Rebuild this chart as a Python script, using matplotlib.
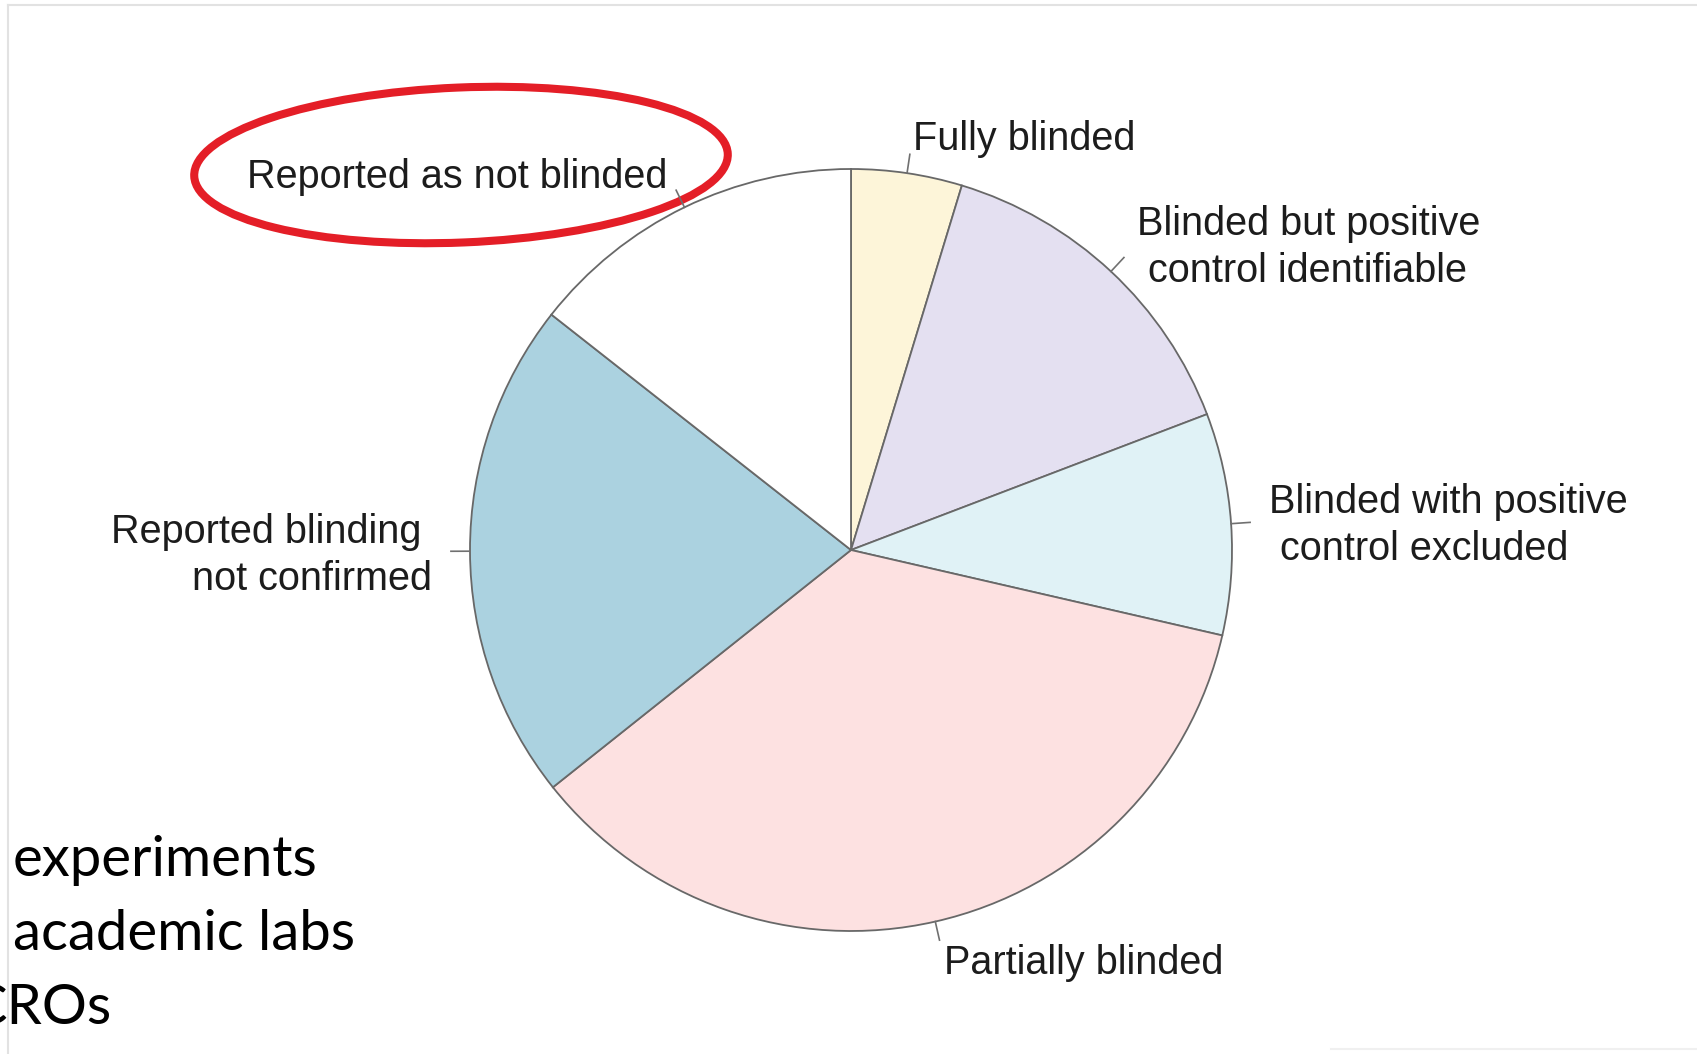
import numpy as np
import matplotlib.pyplot as plt
from matplotlib.patches import Ellipse

# blinding status of the experiments (percent of total)
categories = ["Fully blinded",
              "Blinded but positive\n control identifiable",
              "Blinded with positive\n control excluded",
              "Partially blinded",
              "Reported blinding \nnot confirmed",
              "Reported as not blinded"]
shares = [4.7, 14.5, 9.4, 35.7, 21.3, 14.4]
slice_colors = ["#FDF5D9", "#E4E0F1", "#E0F2F6", "#FDE1E1", "#ABD2E0", "#FFFFFF"]

# slide text left of the chart
side_lines = ["experiments", "academic labs", "CROs"]

W, H = 1697, 1054
fig = plt.figure(figsize=(W / 100, H / 100), dpi=100)
ax = fig.add_axes([0, 0, 1, 1])

cx, cy, r = 851, H - 550, 381
wedges, _ = ax.pie(shares, colors=slice_colors, startangle=90, counterclock=False,
                   radius=r, center=(cx, cy),
                   wedgeprops=dict(edgecolor="#686868", linewidth=1.3))
ax.set_xlim(0, W)
ax.set_ylim(0, H)
ax.set_aspect("equal")
ax.axis("off")

# labels R-style: short tick out of the rim, text at 1.1 r
for w, lab in zip(wedges, categories):
    a = np.deg2rad((w.theta1 + w.theta2) / 2)
    ux, uy = np.cos(a), np.sin(a)
    ax.plot([cx + r * ux, cx + 1.05 * r * ux], [cy + r * uy, cy + 1.05 * r * uy],
            color="#707070", lw=1.2)
    ha = "left" if ux > 0 else "right"
    ax.text(cx + 1.1 * r * ux, cy + 1.1 * r * uy - 4, lab, ha=ha, va="center",
            multialignment=ha, fontsize=28.5, family="Liberation Sans",
            color="#1c1c1c", linespacing=1.3)

# highlight ring
ax.add_patch(Ellipse((461, H - 165), 534, 155, angle=2.4, fill=False,
                     edgecolor="#E41E27", lw=5.8))

# border of the pasted picture
ax.plot([8, 8], [0, H - 5], color="#e2e2e2", lw=1.5)
ax.plot([8, W], [H - 5, H - 5], color="#e2e2e2", lw=1.5)
ax.plot([1331, W], [5, 5], color="#f0f0f0", lw=1.5)

xs = [13, 13, -31]
for i, (txt, x0) in enumerate(zip(side_lines, xs)):
    ax.text(x0, H - 876 - 74 * i, txt, ha="left", va="baseline",
            fontsize=40.5, family="Lato", color="black")

fig.savefig("out.png", dpi=100)
